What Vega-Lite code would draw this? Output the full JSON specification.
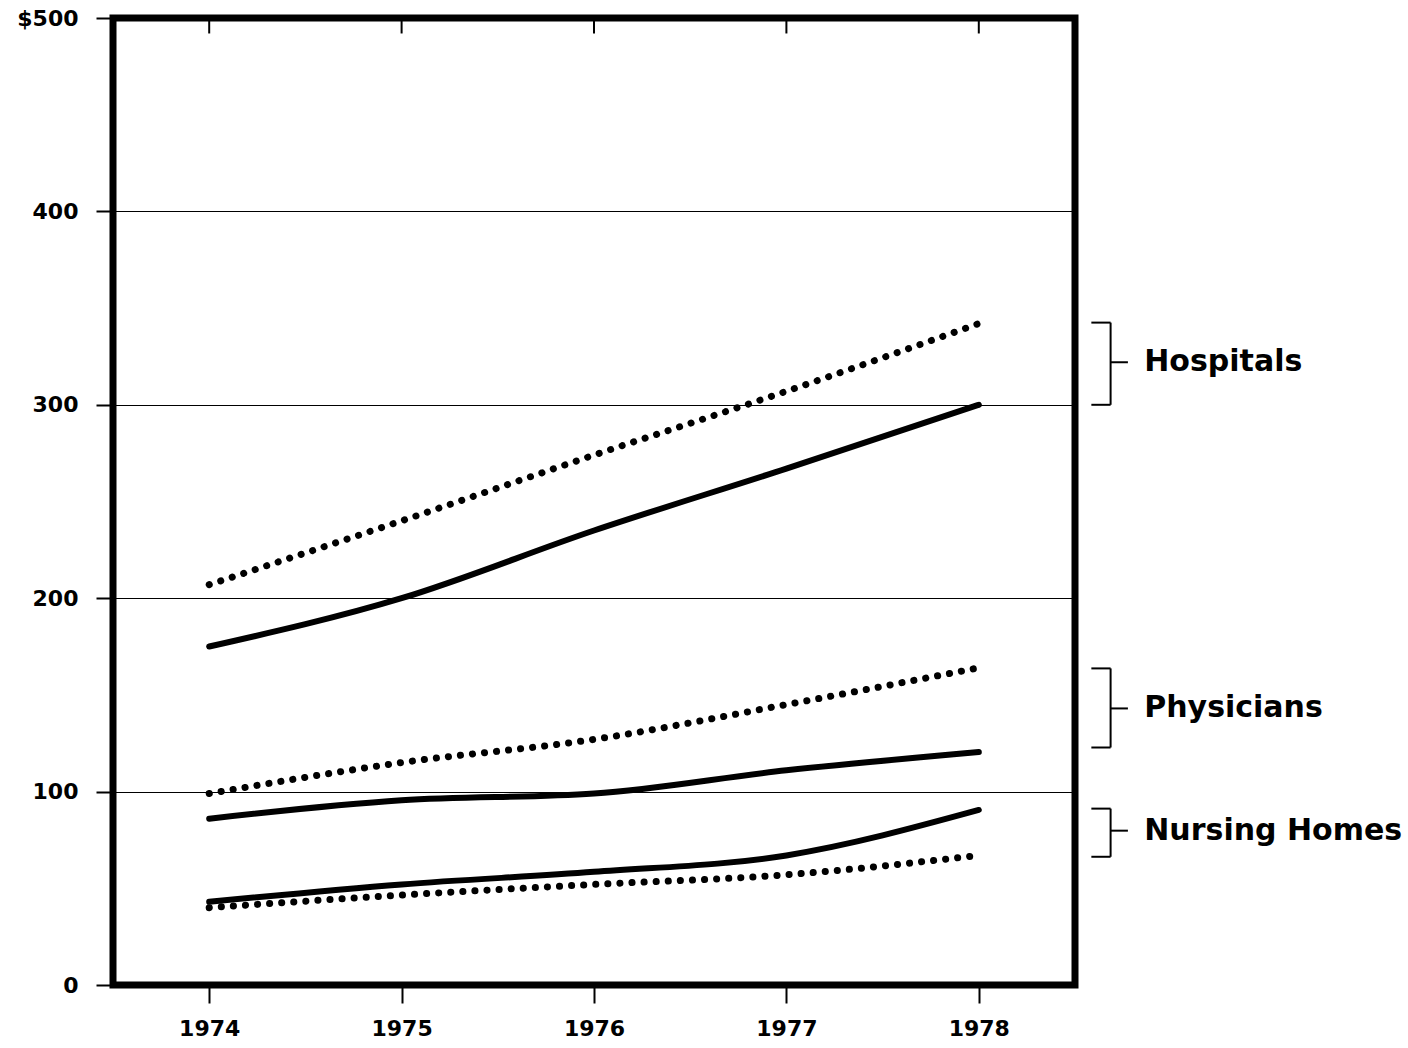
{
  "$schema": "https://vega.github.io/schema/vega-lite/v6.json",
  "width": 962,
  "height": 967,
  "autosize": "none",
  "padding": {"left": 113, "top": 18, "right": 333, "bottom": 63},
  "background": "white",
  "config": {
    "view": {"stroke": "black", "strokeWidth": 7},
    "font": "DejaVu Sans",
    "axis": {
      "labelFont": "DejaVu Sans",
      "labelFontWeight": "bold",
      "labelFontSize": 22,
      "labelColor": "black",
      "tickColor": "black",
      "tickWidth": 2,
      "domain": false
    }
  },
  "datasets": {
    "lines": [
      {"series": "Hospitals", "style": "dotted", "year": 1974, "value": 207},
      {"series": "Hospitals", "style": "dotted", "year": 1975, "value": 240},
      {"series": "Hospitals", "style": "dotted", "year": 1976, "value": 274},
      {"series": "Hospitals", "style": "dotted", "year": 1977, "value": 307},
      {"series": "Hospitals", "style": "dotted", "year": 1978, "value": 342},
      {"series": "Hospitals", "style": "solid", "year": 1974, "value": 175},
      {"series": "Hospitals", "style": "solid", "year": 1975, "value": 200},
      {"series": "Hospitals", "style": "solid", "year": 1976, "value": 235},
      {"series": "Hospitals", "style": "solid", "year": 1977, "value": 267},
      {"series": "Hospitals", "style": "solid", "year": 1978, "value": 300},
      {"series": "Physicians", "style": "dotted", "year": 1974, "value": 99},
      {"series": "Physicians", "style": "dotted", "year": 1975, "value": 115},
      {"series": "Physicians", "style": "dotted", "year": 1976, "value": 127},
      {"series": "Physicians", "style": "dotted", "year": 1977, "value": 145},
      {"series": "Physicians", "style": "dotted", "year": 1978, "value": 164},
      {"series": "Physicians", "style": "solid", "year": 1974, "value": 86},
      {"series": "Physicians", "style": "solid", "year": 1975, "value": 95.5},
      {"series": "Physicians", "style": "solid", "year": 1976, "value": 99},
      {"series": "Physicians", "style": "solid", "year": 1977, "value": 111},
      {"series": "Physicians", "style": "solid", "year": 1978, "value": 120.5},
      {"series": "Nursing Homes", "style": "solid", "year": 1974, "value": 43},
      {"series": "Nursing Homes", "style": "solid", "year": 1975, "value": 52},
      {"series": "Nursing Homes", "style": "solid", "year": 1976, "value": 58.5},
      {"series": "Nursing Homes", "style": "solid", "year": 1977, "value": 67},
      {"series": "Nursing Homes", "style": "solid", "year": 1978, "value": 90.5},
      {"series": "Nursing Homes", "style": "dotted", "year": 1974, "value": 40},
      {"series": "Nursing Homes", "style": "dotted", "year": 1975, "value": 46.5},
      {"series": "Nursing Homes", "style": "dotted", "year": 1976, "value": 52},
      {"series": "Nursing Homes", "style": "dotted", "year": 1977, "value": 57},
      {"series": "Nursing Homes", "style": "dotted", "year": 1978, "value": 67}
    ],
    "brackets": [
      {"label": "Hospitals", "top": 342.5, "bottom": 300, "mid": 322},
      {"label": "Physicians", "top": 163.7, "bottom": 122.8, "mid": 143},
      {"label": "Nursing Homes", "top": 91.2, "bottom": 66.3, "mid": 79.8}
    ]
  },
  "layer": [
    {
      "data": {"name": "lines"},
      "transform": [{"filter": "datum.style === 'solid'"}],
      "mark": {"type": "line", "color": "black", "strokeWidth": 6, "strokeCap": "round", "interpolate": "monotone"},
      "encoding": {
        "x": {
          "field": "year", "type": "quantitative",
          "scale": {"domain": [1973.5, 1978.5], "nice": false, "zero": false},
          "axis": {"title": null, "orient": "bottom", "values": [1974, 1975, 1976, 1977, 1978], "format": "d", "tickSize": 18, "labelPadding": 15, "grid": false}
        },
        "y": {
          "field": "value", "type": "quantitative",
          "scale": {"domain": [0, 500], "nice": false},
          "axis": {"title": null, "orient": "left", "values": [0, 100, 200, 300, 400, 500], "tickSize": 17, "labelPadding": 18, "grid": true, "gridColor": "black", "gridWidth": 1.2, "gridOpacity": 1, "labelExpr": "datum.value == 500 ? '$500' : datum.label"}
        },
        "detail": {"field": "series"}
      }
    },
    {
      "data": {"name": "lines"},
      "transform": [{"filter": "datum.style === 'dotted'"}],
      "mark": {"type": "line", "color": "black", "strokeWidth": 7, "strokeCap": "round", "strokeDash": [0.1, 12], "interpolate": "monotone"},
      "encoding": {
        "x": {"field": "year", "type": "quantitative", "axis": {"title": null, "orient": "bottom", "values": [1974, 1975, 1976, 1977, 1978], "format": "d", "tickSize": 18, "labelPadding": 15, "grid": false}},
        "y": {"field": "value", "type": "quantitative", "axis": {"title": null, "orient": "left", "values": [0, 100, 200, 300, 400, 500], "tickSize": 17, "labelPadding": 18, "grid": true, "gridColor": "black", "gridWidth": 1.2, "gridOpacity": 1, "labelExpr": "datum.value == 500 ? '$500' : datum.label"}},
        "detail": {"field": "series"}
      }
    },
    {
      "data": {"name": "lines"},
      "transform": [{"filter": "datum.series === 'Hospitals' && datum.style === 'solid'"}],
      "mark": {"type": "rule", "color": "black", "strokeWidth": 2},
      "encoding": {
        "x": {"field": "year", "type": "quantitative", "axis": {"title": null, "orient": "bottom", "values": [1974, 1975, 1976, 1977, 1978], "format": "d", "tickSize": 18, "labelPadding": 15, "grid": false}},
        "y": {"datum": 500, "type": "quantitative", "axis": {"title": null, "orient": "left", "values": [0, 100, 200, 300, 400, 500], "tickSize": 17, "labelPadding": 18, "grid": true, "gridColor": "black", "gridWidth": 1.2, "gridOpacity": 1, "labelExpr": "datum.value == 500 ? '$500' : datum.label"}},
        "y2": {"datum": 492}
      }
    },
    {
      "data": {"name": "brackets"},
      "mark": {"type": "rule", "color": "black", "strokeWidth": 2},
      "encoding": {
        "x": {"datum": 1978.685, "type": "quantitative", "axis": {"title": null, "orient": "bottom", "values": [1974, 1975, 1976, 1977, 1978], "format": "d", "tickSize": 18, "labelPadding": 15, "grid": false}},
        "y": {"field": "top", "type": "quantitative", "axis": {"title": null, "orient": "left", "values": [0, 100, 200, 300, 400, 500], "tickSize": 17, "labelPadding": 18, "grid": true, "gridColor": "black", "gridWidth": 1.2, "gridOpacity": 1, "labelExpr": "datum.value == 500 ? '$500' : datum.label"}},
        "y2": {"field": "bottom"}
      }
    },
    {
      "data": {"name": "brackets"},
      "mark": {"type": "rule", "color": "black", "strokeWidth": 2},
      "encoding": {
        "x": {"datum": 1978.585, "type": "quantitative", "axis": {"title": null, "orient": "bottom", "values": [1974, 1975, 1976, 1977, 1978], "format": "d", "tickSize": 18, "labelPadding": 15, "grid": false}},
        "x2": {"datum": 1978.685},
        "y": {"field": "top", "type": "quantitative", "axis": {"title": null, "orient": "left", "values": [0, 100, 200, 300, 400, 500], "tickSize": 17, "labelPadding": 18, "grid": true, "gridColor": "black", "gridWidth": 1.2, "gridOpacity": 1, "labelExpr": "datum.value == 500 ? '$500' : datum.label"}}
      }
    },
    {
      "data": {"name": "brackets"},
      "mark": {"type": "rule", "color": "black", "strokeWidth": 2},
      "encoding": {
        "x": {"datum": 1978.585, "type": "quantitative", "axis": {"title": null, "orient": "bottom", "values": [1974, 1975, 1976, 1977, 1978], "format": "d", "tickSize": 18, "labelPadding": 15, "grid": false}},
        "x2": {"datum": 1978.685},
        "y": {"field": "bottom", "type": "quantitative", "axis": {"title": null, "orient": "left", "values": [0, 100, 200, 300, 400, 500], "tickSize": 17, "labelPadding": 18, "grid": true, "gridColor": "black", "gridWidth": 1.2, "gridOpacity": 1, "labelExpr": "datum.value == 500 ? '$500' : datum.label"}}
      }
    },
    {
      "data": {"name": "brackets"},
      "mark": {"type": "rule", "color": "black", "strokeWidth": 2},
      "encoding": {
        "x": {"datum": 1978.685, "type": "quantitative", "axis": {"title": null, "orient": "bottom", "values": [1974, 1975, 1976, 1977, 1978], "format": "d", "tickSize": 18, "labelPadding": 15, "grid": false}},
        "x2": {"datum": 1978.775},
        "y": {"field": "mid", "type": "quantitative", "axis": {"title": null, "orient": "left", "values": [0, 100, 200, 300, 400, 500], "tickSize": 17, "labelPadding": 18, "grid": true, "gridColor": "black", "gridWidth": 1.2, "gridOpacity": 1, "labelExpr": "datum.value == 500 ? '$500' : datum.label"}}
      }
    },
    {
      "data": {"name": "brackets"},
      "mark": {"type": "text", "align": "left", "baseline": "middle", "font": "DejaVu Sans", "fontWeight": "bold", "fontSize": 30, "color": "black"},
      "encoding": {
        "x": {"datum": 1978.86, "type": "quantitative", "axis": {"title": null, "orient": "bottom", "values": [1974, 1975, 1976, 1977, 1978], "format": "d", "tickSize": 18, "labelPadding": 15, "grid": false}},
        "y": {"field": "mid", "type": "quantitative", "axis": {"title": null, "orient": "left", "values": [0, 100, 200, 300, 400, 500], "tickSize": 17, "labelPadding": 18, "grid": true, "gridColor": "black", "gridWidth": 1.2, "gridOpacity": 1, "labelExpr": "datum.value == 500 ? '$500' : datum.label"}},
        "text": {"field": "label"}
      }
    }
  ]
}
